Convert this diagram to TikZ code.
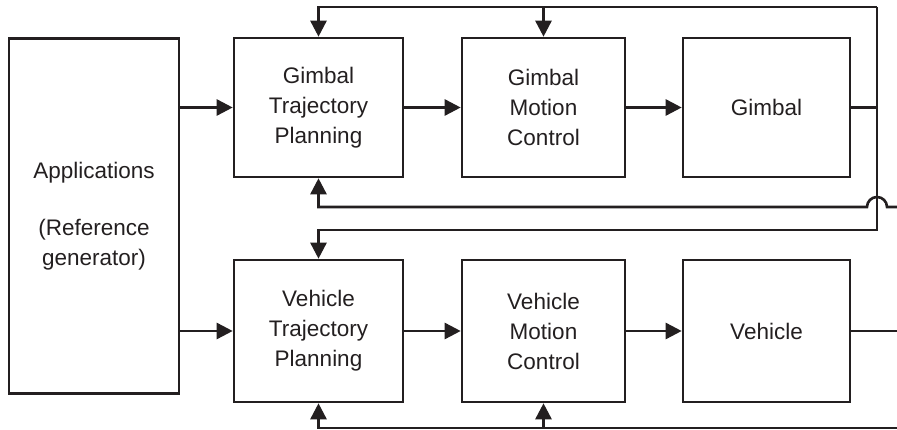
\documentclass[tikz,border=0pt]{standalone}
\usepackage{fontspec}
\setmainfont{Liberation Sans}
\usetikzlibrary{arrows.meta}
\definecolor{ink}{HTML}{231F20}
\tikzset{
  blk/.style={draw=ink, line width=2.6pt, rectangle, inner sep=0pt, align=center,
    text=ink, font=\fontsize{22.5}{30}\selectfont},
  wire/.style={draw=ink, line width=2.6pt},
  arr/.style={wire, -{Triangle[length=16pt,width=16pt]}}
}
\begin{document}
\begin{tikzpicture}[x=1pt,y=-1pt]
\useasboundingbox (0,0) rectangle (897,430);

% blocks
\node[blk, minimum width=170pt, minimum height=355pt] (apps) at (94,216)
  {Applications\\[27pt](Reference\\generator)};
\node[blk, minimum width=169pt, minimum height=139pt] (gtp) at (318.5,107.5)
  {Gimbal\\Trajectory\\Planning};
\node[blk, minimum width=163pt, minimum height=139pt] (gmc) at (543.5,107.5)
  {Gimbal\\Motion\\Control};
\node[blk, minimum width=167pt, minimum height=139pt] (gim) at (766.5,107.5)
  {Gimbal};
\node[blk, minimum width=169pt, minimum height=142pt] (vtp) at (318.5,331)
  {Vehicle\\Trajectory\\Planning};
\node[blk, minimum width=163pt, minimum height=142pt] (vmc) at (543.5,331)
  {Vehicle\\Motion\\Control};
\node[blk, minimum width=167pt, minimum height=142pt] (veh) at (766.5,331)
  {Vehicle};

% free ends of the feedback wiring
\coordinate (tr) at (877,7);
\coordinate (br) at (877,230);
\coordinate (gin) at (897,207);
\coordinate (vout) at (897,331);
\coordinate (bin) at (897,428);

% forward paths
\draw[arr] (apps.east |- gtp) -- (gtp.west);
\draw[arr] (gtp.east) -- (gmc.west);
\draw[arr] (gmc.east) -- (gim.west);
\draw[arr] (apps.east |- vtp) -- (vtp.west);
\draw[arr] (vtp.east) -- (vmc.west);
\draw[arr] (vmc.east) -- (veh.west);

% gimbal output distributed upward and downward
\draw[wire] (gim.east) -- (gim.east -| tr);
\draw[arr] (tr) -| (gtp.north);
\draw[arr] (gmc.north |- tr) -- (gmc.north);
\draw[arr] (tr) -- (br) -| (vtp.north);

% gimbal feedback hopping over the vertical wire
\draw[arr] (gin) -- ([xshift=10pt]gin -| tr)
  arc[start angle=0, end angle=180, radius=10pt]
  -| (gtp.south);

% vehicle output and feedback
\draw[wire] (veh.east) -- (vout);
\draw[arr] (bin) -| (vtp.south);
\draw[arr] (vmc.south |- bin) -- (vmc.south);
\end{tikzpicture}
\end{document}
